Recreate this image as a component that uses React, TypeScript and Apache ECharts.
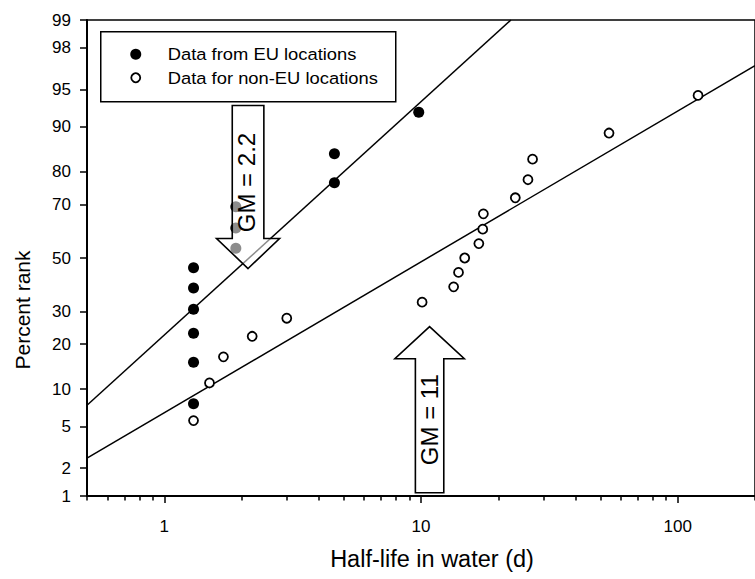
import React, { useEffect, useRef } from "react";
import * as echarts from "echarts";

// ---- data ----
const euHalfLife = [1.3, 1.3, 1.3, 1.3, 1.3, 1.3, 1.9, 1.9, 1.9, 4.6, 4.6, 9.8];
const euRank = [7.7, 15.4, 23.1, 30.8, 38.5, 46.2, 53.8, 61.5, 69.2, 76.9, 84.6, 92.3];

const nonEuHalfLife = [1.3, 1.5, 1.7, 2.2, 3.0, 10.1, 13.4, 14.0, 14.8, 16.8, 17.4, 17.5, 23.3, 26.1, 27.2, 54, 120];
const nonEuRank = [5.6, 11.1, 16.7, 22.2, 27.8, 33.3, 38.9, 44.4, 50.0, 55.6, 61.1, 66.7, 72.2, 77.8, 83.3, 88.9, 94.4];

// fitted log-normal lines (end points)
const euFitHalfLife = [0.5, 22.4];
const euFitRank = [7.5, 99];
const nonEuFitHalfLife = [0.5, 200];
const nonEuFitRank = [2.52, 97.0];

// annotation arrows (tip positions in data space)
const arrowLabels = ["GM = 2.2", "GM = 11"];
const arrowTipHalfLife = [2.12, 10.8];
const arrowTipRank = [45.9, 25.1];

// axis ticks
const rankTicks = [1, 2, 5, 10, 20, 30, 50, 70, 80, 90, 95, 98, 99];
const xMajorTicks = [1, 10, 100];
const xMinorTicks = [0.5, 0.6, 0.7, 0.8, 0.9, 2, 3, 4, 5, 6, 7, 8, 9, 20, 30, 40, 50, 60, 70, 80, 90, 200];
const xMin = 0.5;
const xMax = 200;
const rankMin = 1;
const rankMax = 99;

const legendLabels = ["Data from EU locations", "Data for non-EU locations"];
const xTitle = "Half-life in water (d)";
const yTitle = "Percent rank";

// ---- scale transforms (probability axis, log axis) ----
function probit(p: number): number {
  const a = [-3.969683028665376e1, 2.209460984245205e2, -2.759285104469687e2, 1.38357751867269e2, -3.066479806614716e1, 2.506628277459239];
  const b = [-5.447609879822406e1, 1.615858368580409e2, -1.556989798598866e2, 6.680131188771972e1, -1.328068155288572e1];
  const c = [-7.784894002430293e-3, -3.223964580411365e-1, -2.400758277161838, -2.549732539343734, 4.374664141464968, 2.938163982698783];
  const d = [7.784695709041462e-3, 3.224671290700398e-1, 2.445134137142996, 3.754408661907416];
  const pl = 0.02425;
  const ph = 1 - pl;
  let q: number, r: number;
  if (p < pl) {
    q = Math.sqrt(-2 * Math.log(p));
    return (((((c[0] * q + c[1]) * q + c[2]) * q + c[3]) * q + c[4]) * q + c[5]) / ((((d[0] * q + d[1]) * q + d[2]) * q + d[3]) * q + 1);
  }
  if (p <= ph) {
    q = p - 0.5;
    r = q * q;
    return ((((((a[0] * r + a[1]) * r + a[2]) * r + a[3]) * r + a[4]) * r + a[5]) * q) / (((((b[0] * r + b[1]) * r + b[2]) * r + b[3]) * r + b[4]) * r + 1);
  }
  q = Math.sqrt(-2 * Math.log(1 - p));
  return -(((((c[0] * q + c[1]) * q + c[2]) * q + c[3]) * q + c[4]) * q + c[5]) / ((((d[0] * q + d[1]) * q + d[2]) * q + d[3]) * q + 1);
}
const ty = (pct: number) => probit(pct / 100);
const tx = (v: number) => Math.log10(v);

const FONT = "'Liberation Sans', Arial, Helvetica, sans-serif";

export default function App() {
  const ref = useRef<HTMLDivElement>(null);

  useEffect(() => {
    if (!ref.current) return;
    const chart = echarts.init(ref.current, undefined, { renderer: "svg" });

    const rankTickPos = rankTicks.map(ty);
    const xMajorPos = xMajorTicks.map(tx);
    const xMinorPos = xMinorTicks.map(tx);

    const yLabel = (v: number) => {
      const i = rankTickPos.findIndex((t) => Math.abs(t - v) < 1e-6);
      return i >= 0 ? String(rankTicks[i]) : "";
    };
    const xLabel = (v: number) => {
      const i = xMajorPos.findIndex((t) => Math.abs(t - v) < 1e-6);
      return i >= 0 ? String(xMajorTicks[i]) : "";
    };

    const arrowShapes = [
      { dir: -1, headLen: 30, headHalf: 31.5, shaftHalf: 15.8, shaftLen: 163, textDx: -1.5, textD: 86 },
      { dir: 1, headLen: 32, headHalf: 34.7, shaftHalf: 14.2, shaftLen: 166, textDx: 0, textD: 93 },
    ];

    const option: any = {
      animation: false,
      backgroundColor: "#fff",
      grid: {
        left: 87,
        top: 20,
        bottom: 83,
        right: -16,
        show: true,
        borderColor: "#000",
        borderWidth: 1.5,
        backgroundColor: "transparent",
      },
      xAxis: [
        {
          type: "value",
          min: tx(xMin),
          max: tx(xMax),
          position: "bottom",
          name: xTitle,
          nameLocation: "middle",
          nameGap: 51,
          nameTextStyle: { fontSize: 23.5, color: "#000", fontFamily: FONT, padding: [0, 0, 0, 22] },
          axisLine: { show: true, onZero: false, lineStyle: { color: "#000", width: 2 } },
          axisTick: { show: true, length: 7, inside: false, customValues: xMajorPos, lineStyle: { color: "#000", width: 1.5 } },
          axisLabel: { show: true, customValues: xMajorPos, formatter: xLabel, margin: 22, fontSize: 17, color: "#000", fontFamily: FONT },
          splitLine: { show: false },
        },
        {
          type: "value",
          min: tx(xMin),
          max: tx(xMax),
          position: "bottom",
          offset: 0,
          axisLine: { show: false, onZero: false },
          axisTick: { show: true, length: 4.5, inside: false, customValues: xMinorPos, lineStyle: { color: "#000", width: 1.5 } },
          axisLabel: { show: false },
          splitLine: { show: false },
        },
      ],
      yAxis: {
        type: "value",
        min: ty(rankMin),
        max: ty(rankMax),
        axisLine: { show: true, onZero: false, lineStyle: { color: "#000", width: 2 } },
        axisTick: { show: true, length: 7, inside: false, customValues: rankTickPos, lineStyle: { color: "#000", width: 1.5 } },
        axisLabel: { show: true, customValues: rankTickPos, formatter: yLabel, margin: 16, fontSize: 17, color: "#000", fontFamily: FONT },
        splitLine: { show: false },
      },
      series: [
        {
          name: "EU fit",
          type: "line",
          data: euFitHalfLife.map((x, i) => [tx(x), ty(euFitRank[i])]),
          symbol: "none",
          lineStyle: { color: "#000", width: 1.5 },
          z: 2,
          silent: true,
        },
        {
          name: "non-EU fit",
          type: "line",
          data: nonEuFitHalfLife.map((x, i) => [tx(x), ty(nonEuFitRank[i])]),
          symbol: "none",
          lineStyle: { color: "#000", width: 1.5 },
          z: 2,
          silent: true,
        },
        {
          name: legendLabels[0],
          type: "scatter",
          data: euHalfLife.map((x, i) => [tx(x), ty(euRank[i])]),
          symbol: "circle",
          symbolSize: 11,
          itemStyle: { color: "#000", opacity: 1 },
          z: 3,
        },
        {
          name: legendLabels[1],
          type: "scatter",
          data: nonEuHalfLife.map((x, i) => [tx(x), ty(nonEuRank[i])]),
          symbol: "circle",
          symbolSize: 9,
          itemStyle: { color: "#fff", borderColor: "#000", borderWidth: 1.8, opacity: 1 },
          z: 3,
        },
        {
          name: "arrows",
          type: "custom",
          z: 5,
          silent: true,
          data: arrowTipHalfLife.map((x, i) => [tx(x), ty(arrowTipRank[i])]),
          renderItem: (params: any, api: any) => {
            const i = params.dataIndex;
            const p = api.coord([api.value(0), api.value(1)]);
            const cx = p[0];
            const cy = p[1];
            const s = arrowShapes[i];
            const d = s.dir;
            const pts = [
              [cx, cy],
              [cx + s.headHalf, cy + d * s.headLen],
              [cx + s.shaftHalf, cy + d * s.headLen],
              [cx + s.shaftHalf, cy + d * s.shaftLen],
              [cx - s.shaftHalf, cy + d * s.shaftLen],
              [cx - s.shaftHalf, cy + d * s.headLen],
              [cx - s.headHalf, cy + d * s.headLen],
            ];
            return {
              type: "group",
              children: [
                {
                  type: "polygon",
                  shape: { points: pts },
                  style: { fill: "rgba(255,255,255,0.55)", stroke: "#000", lineWidth: 1.6 },
                },
                {
                  type: "text",
                  x: cx + s.textDx,
                  y: cy + d * s.textD,
                  rotation: Math.PI / 2,
                  style: {
                    text: arrowLabels[i],
                    fontSize: 24,
                    fontFamily: FONT,
                    fill: "#000",
                    align: "center",
                    verticalAlign: "middle",
                  },
                },
              ],
            };
          },
        },
      ],
      graphic: [
        {
          type: "text",
          x: 22,
          y: 310,
          rotation: Math.PI / 2,
          style: { text: yTitle, fontSize: 21, fontFamily: FONT, fill: "#000", align: "center", verticalAlign: "middle" },
        },
        {
          type: "group",
          left: 100,
          top: 31,
          children: [
            {
              type: "rect",
              shape: { x: 0, y: 0, width: 295, height: 70 },
              style: { fill: "#fff", stroke: "#000", lineWidth: 1.5 },
            },
            {
              type: "circle",
              shape: { cx: 35, cy: 22.5, r: 5.5 },
              style: { fill: "#000" },
            },
            {
              type: "circle",
              shape: { cx: 35, cy: 46, r: 4.5 },
              style: { fill: "#fff", stroke: "#000", lineWidth: 1.8 },
            },
            {
              type: "text",
              x: 67,
              y: 22.5,
              scaleX: 1.08,
              style: { text: legendLabels[0], fontSize: 17, fontFamily: FONT, fill: "#000", verticalAlign: "middle", align: "left" },
            },
            {
              type: "text",
              x: 67,
              y: 46,
              scaleX: 1.08,
              style: { text: legendLabels[1], fontSize: 17, fontFamily: FONT, fill: "#000", verticalAlign: "middle", align: "left" },
            },
          ],
        },
      ],
    };

    chart.setOption(option);
    return () => chart.dispose();
  }, []);

  return <div ref={ref} style={{ position: "absolute", left: 0, top: 0, width: 755, height: 579 }} />;
}
